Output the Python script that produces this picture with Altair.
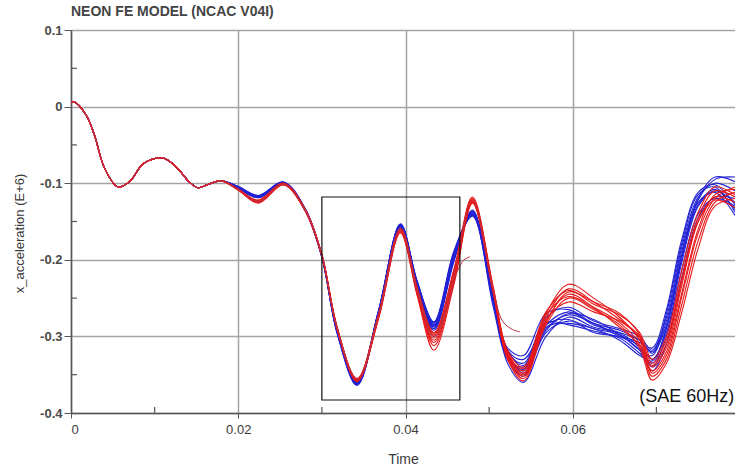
import altair as alt
import pandas as pd

# Shared start of every run (all runs coincide here)
T_EARLY = [0.0, 0.0004, 0.0018, 0.0028, 0.0040, 0.0056, 0.0070, 0.0087,
           0.0110, 0.0126, 0.0141, 0.0152, 0.0165, 0.0180]
Y_EARLY = [0.005, 0.006, -0.011, -0.037, -0.080, -0.105, -0.098, -0.074,
           -0.067, -0.079, -0.098, -0.106, -0.101, -0.097]

# Time points where the runs start to separate
T_LATE = [0.0200, 0.0224, 0.0254, 0.0280, 0.0300, 0.0318, 0.0342, 0.0368,
          0.0394, 0.0414, 0.0434, 0.0458, 0.0480, 0.0505, 0.0522, 0.0541,
          0.0568, 0.0595, 0.0625, 0.0656, 0.0680, 0.0695, 0.0712, 0.0730,
          0.0750, 0.0770, 0.0794]

# Blue runs
BLUE_01 = [-0.105, -0.117, -0.099, -0.134, -0.194, -0.291, -0.363, -0.266, -0.153, -0.229, -0.282, -0.190, -0.140,
           -0.250, -0.318, -0.330, -0.285, -0.268, -0.285, -0.295, -0.305, -0.320, -0.280, -0.190, -0.120, -0.092, -0.098]
BLUE_02 = [-0.106, -0.118, -0.100, -0.135, -0.196, -0.293, -0.361, -0.268, -0.155, -0.233, -0.288, -0.198, -0.138,
           -0.255, -0.325, -0.345, -0.290, -0.272, -0.283, -0.300, -0.312, -0.330, -0.295, -0.205, -0.130, -0.110, -0.125]
BLUE_03 = [-0.105, -0.116, -0.099, -0.133, -0.194, -0.290, -0.360, -0.265, -0.154, -0.228, -0.281, -0.188, -0.142,
           -0.258, -0.330, -0.352, -0.295, -0.280, -0.290, -0.298, -0.318, -0.325, -0.270, -0.180, -0.115, -0.105, -0.138]
BLUE_04 = [-0.107, -0.119, -0.101, -0.136, -0.197, -0.295, -0.364, -0.270, -0.157, -0.236, -0.292, -0.202, -0.135,
           -0.245, -0.320, -0.335, -0.275, -0.262, -0.280, -0.290, -0.300, -0.318, -0.275, -0.185, -0.118, -0.100, -0.110]
BLUE_05 = [-0.105, -0.117, -0.100, -0.134, -0.195, -0.292, -0.362, -0.267, -0.156, -0.232, -0.286, -0.196, -0.137,
           -0.252, -0.335, -0.360, -0.300, -0.275, -0.288, -0.296, -0.315, -0.340, -0.300, -0.215, -0.140, -0.120, -0.130]
BLUE_06 = [-0.106, -0.118, -0.100, -0.135, -0.196, -0.294, -0.360, -0.266, -0.154, -0.230, -0.284, -0.193, -0.141,
           -0.262, -0.328, -0.340, -0.282, -0.285, -0.293, -0.302, -0.322, -0.335, -0.290, -0.200, -0.125, -0.112, -0.142]
BLUE_07 = [-0.104, -0.116, -0.098, -0.133, -0.194, -0.291, -0.363, -0.269, -0.158, -0.235, -0.290, -0.200, -0.139,
           -0.248, -0.315, -0.325, -0.270, -0.265, -0.283, -0.292, -0.305, -0.322, -0.285, -0.195, -0.122, -0.095, -0.092]
BLUE_08 = [-0.106, -0.117, -0.099, -0.134, -0.195, -0.292, -0.361, -0.265, -0.155, -0.229, -0.282, -0.191, -0.143,
           -0.256, -0.322, -0.348, -0.292, -0.270, -0.278, -0.298, -0.318, -0.345, -0.310, -0.225, -0.145, -0.118, -0.120]
BLUE_09 = [-0.105, -0.118, -0.100, -0.135, -0.195, -0.293, -0.362, -0.267, -0.156, -0.233, -0.287, -0.197, -0.136,
           -0.250, -0.318, -0.338, -0.285, -0.278, -0.295, -0.300, -0.308, -0.315, -0.265, -0.175, -0.112, -0.102, -0.128]
BLUE_10 = [-0.107, -0.119, -0.101, -0.136, -0.197, -0.295, -0.363, -0.268, -0.155, -0.231, -0.285, -0.194, -0.138,
           -0.252, -0.326, -0.343, -0.288, -0.283, -0.290, -0.305, -0.325, -0.332, -0.288, -0.198, -0.128, -0.108, -0.135]

# Red runs
RED_01 = [-0.108, -0.123, -0.100, -0.134, -0.193, -0.287, -0.357, -0.271, -0.160, -0.238, -0.298, -0.215, -0.120,
          -0.238, -0.320, -0.345, -0.270, -0.232, -0.250, -0.275, -0.305, -0.345, -0.320, -0.245, -0.160, -0.115, -0.108]
RED_02 = [-0.109, -0.124, -0.101, -0.135, -0.194, -0.288, -0.356, -0.273, -0.162, -0.241, -0.305, -0.222, -0.122,
          -0.240, -0.325, -0.350, -0.275, -0.238, -0.255, -0.278, -0.300, -0.335, -0.305, -0.225, -0.145, -0.110, -0.118]
RED_03 = [-0.108, -0.125, -0.102, -0.136, -0.195, -0.289, -0.358, -0.275, -0.164, -0.245, -0.312, -0.228, -0.125,
          -0.242, -0.328, -0.355, -0.280, -0.245, -0.262, -0.282, -0.310, -0.352, -0.330, -0.260, -0.175, -0.125, -0.112]
RED_04 = [-0.108, -0.122, -0.100, -0.134, -0.193, -0.287, -0.355, -0.270, -0.159, -0.236, -0.295, -0.212, -0.118,
          -0.236, -0.318, -0.340, -0.268, -0.240, -0.258, -0.272, -0.295, -0.330, -0.300, -0.215, -0.138, -0.105, -0.115]
RED_05 = [-0.109, -0.126, -0.102, -0.136, -0.195, -0.290, -0.359, -0.276, -0.165, -0.247, -0.318, -0.232, -0.126,
          -0.244, -0.330, -0.358, -0.285, -0.250, -0.265, -0.285, -0.315, -0.357, -0.335, -0.270, -0.185, -0.130, -0.120]
RED_06 = [-0.108, -0.123, -0.101, -0.135, -0.194, -0.288, -0.356, -0.272, -0.161, -0.239, -0.300, -0.218, -0.121,
          -0.239, -0.322, -0.348, -0.278, -0.255, -0.268, -0.280, -0.302, -0.340, -0.315, -0.235, -0.150, -0.118, -0.125]
RED_07 = [-0.108, -0.124, -0.101, -0.135, -0.194, -0.288, -0.357, -0.274, -0.163, -0.243, -0.308, -0.225, -0.123,
          -0.241, -0.326, -0.352, -0.282, -0.242, -0.255, -0.270, -0.298, -0.348, -0.325, -0.250, -0.165, -0.120, -0.105]
RED_08 = [-0.109, -0.125, -0.102, -0.136, -0.195, -0.289, -0.358, -0.271, -0.160, -0.238, -0.296, -0.214, -0.124,
          -0.243, -0.324, -0.342, -0.272, -0.248, -0.263, -0.288, -0.312, -0.338, -0.310, -0.230, -0.150, -0.122, -0.132]

# Two red runs that end early
STUB_A_T = T_LATE[:11] + [0.0450, 0.0462, 0.0470, 0.0477]
STUB_A_Y = [-0.108, -0.124, -0.101, -0.135, -0.194, -0.288, -0.356, -0.272, -0.161, -0.240, -0.302,
            -0.262, -0.215, -0.200, -0.196]
STUB_B_T = T_LATE[:14] + [0.0516, 0.0528, 0.0537]
STUB_B_Y = [-0.108, -0.123, -0.101, -0.135, -0.194, -0.288, -0.356, -0.272, -0.160, -0.238, -0.300,
            -0.217, -0.122, -0.240, -0.280, -0.291, -0.294]

# Highlighted window
BOX_T = [0.0300, 0.0465]
BOX_Y = [-0.118, -0.383]

X_TICKS = [0.0, 0.02, 0.04, 0.06]
X_MINOR = [0.01, 0.03, 0.05, 0.07]
Y_TICKS = [0.1, 0.0, -0.1, -0.2, -0.3, -0.4]
Y_MINOR = [0.05, -0.05, -0.15, -0.25, -0.35]

X_DOMAIN = [0.0, 0.0794]
Y_DOMAIN = [-0.4, 0.1]

BLUE = [BLUE_01, BLUE_02, BLUE_03, BLUE_04, BLUE_05, BLUE_06, BLUE_07, BLUE_08, BLUE_09, BLUE_10]
RED = [RED_01, RED_02, RED_03, RED_04, RED_05, RED_06, RED_07, RED_08]


def runs_frame(prefix, runs):
    rows = []
    for k, ys in enumerate(runs):
        for t, y in zip(T_EARLY + T_LATE, Y_EARLY + ys):
            rows.append({"run": f"{prefix}{k}", "t": t, "a": y})
    return pd.DataFrame(rows)


blue_df = runs_frame("b", BLUE)
red_df = runs_frame("r", RED)
stub_rows = []
for name, ts, ys in [("sa", STUB_A_T, STUB_A_Y), ("sb", STUB_B_T, STUB_B_Y)]:
    for t, y in zip(T_EARLY + ts, Y_EARLY + ys):
        stub_rows.append({"run": name, "t": t, "a": y})
stub_df = pd.DataFrame(stub_rows)

FONT = "Liberation Sans"
GRID = "#a4a4a4"
AXIS = "#555555"

x_scale = alt.Scale(domain=X_DOMAIN, nice=False, zero=False)
y_scale = alt.Scale(domain=Y_DOMAIN, nice=False, zero=False)

x_axis = alt.Axis(
    values=X_TICKS, title="Time", grid=True, gridColor=GRID, gridWidth=1.5,
    domainColor=AXIS, domainWidth=1.5, tickColor=AXIS, tickSize=5,
    labelExpr="datum.value == 0 ? '0' : format(datum.value, '.2f')",
    labelFont=FONT, labelFontSize=13, labelColor="#3a3a3a", labelPadding=5,
    titleFont=FONT, titleFontSize=14, titleFontWeight="normal", titleColor="#3a3a3a",
    titlePadding=16,
)
y_axis = alt.Axis(
    values=Y_TICKS, title="x_acceleration (E+6)", grid=True, gridColor=GRID, gridWidth=1.5,
    domainColor=AXIS, domainWidth=1.5, tickColor=AXIS, tickSize=7,
    labelExpr="datum.value == 0 ? '0' : (datum.value < 0 ? '-' : '') + format(abs(datum.value), '.1f')",
    labelFont=FONT, labelFontSize=13, labelFontWeight="bold", labelColor="#4a4a4a", labelPadding=2,
    titleFont=FONT, titleFontSize=13, titleFontWeight="normal", titleColor="#3a3a3a",
    titlePadding=13, titleY=203,
)


def xq(field):
    return alt.X(field, type="quantitative", scale=x_scale, axis=x_axis)


def yq(field):
    return alt.Y(field, type="quantitative", scale=y_scale, axis=y_axis)


def run_lines(df, colour, width):
    return alt.Chart(df).mark_line(
        interpolate="catmull-rom", strokeWidth=width, color=colour, clip=True
    ).encode(x=xq("t"), y=yq("a"), detail="run:N")


blue_lines = run_lines(blue_df, "#2222d4", 1.1)
red_lines = run_lines(red_df, "#e81818", 1.1)
stub_lines = run_lines(stub_df, "#c03040", 1.0)

# Minor ticks pointing into the plot
x_minor = alt.Chart(pd.DataFrame({"t": X_MINOR})).mark_rule(color=AXIS, strokeWidth=1.2).encode(
    x=xq("t"), y=alt.value(383), y2=alt.value(377),
)
y_minor = alt.Chart(pd.DataFrame({"a": Y_MINOR})).mark_rule(color=AXIS, strokeWidth=1.2).encode(
    y=yq("a"), x=alt.value(0), x2=alt.value(6),
)

box = alt.Chart(pd.DataFrame({"t": [BOX_T[0]], "t1": [BOX_T[1]], "a": [BOX_Y[0]], "a1": [BOX_Y[1]]})).mark_rect(
    fill=None, fillOpacity=0, stroke="#111111", strokeWidth=1.2
).encode(
    x=xq("t"), x2="t1:Q",
    y=yq("a"), y2="a1:Q",
)

note = alt.Chart(pd.DataFrame({"t": [0.0793], "a": [-0.379], "txt": ["(SAE 60Hz)"]})).mark_text(
    align="right", baseline="middle", font=FONT, fontSize=18, color="#111111"
).encode(
    x=xq("t"), y=yq("a"), text="txt:N",
)

chart = alt.layer(
    blue_lines, red_lines, stub_lines, x_minor, y_minor, box, note
).properties(
    width=664, height=383,
    autosize="none",
    padding={"left": 71, "top": 30, "right": 0, "bottom": 55},
    title=alt.TitleParams(
        "NEON FE MODEL (NCAC V04I)", anchor="start", frame="group",
        font=FONT, fontSize=14, fontWeight="bold", color="#444444", offset=5,
    ),
    background="white",
).configure_view(stroke=None)

chart.save("out.html", embed_options={"renderer": "svg", "actions": False})
